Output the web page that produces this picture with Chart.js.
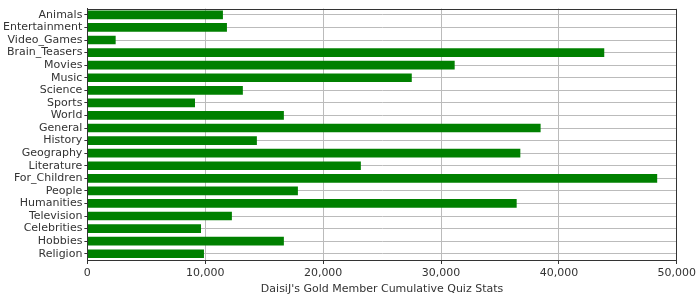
<!DOCTYPE html>
<html>
<head>
<meta charset="utf-8">
<script src="https://cdn.jsdelivr.net/npm/chart.js@4/dist/chart.umd.min.js"></script>
<style>
html,body{margin:0;padding:0;background:#fff;}
#wrap{width:700px;height:300px;}
</style>
</head>
<body>
<div id="wrap"><canvas id="c" width="700" height="300"></canvas></div>
<script>
const categories = ["Animals","Entertainment","Video_Games","Brain_Teasers","Movies","Music","Science","Sports","World","General","History","Geography","Literature","For_Children","People","Humanities","Television","Celebrities","Hobbies","Religion"];
const values = [11500,11840,2400,43850,31160,27520,13190,9130,16670,38450,14380,36730,23200,48340,17860,36420,12260,9640,16670,9890];
const xTicks = [0,10000,20000,30000,40000,50000];
const axisTitle = "DaisiJ's Gold Member Cumulative Quiz Stats";

const frame = {
  id:'frame',
  afterDatasetsDraw(chart){
    const a = chart.chartArea, ctx = chart.ctx;
    ctx.save();
    ctx.strokeStyle = '#333';
    ctx.lineWidth = 1;
    ctx.strokeRect(Math.round(a.left)+0.5, Math.round(a.top)+0.5, Math.round(a.right-a.left), Math.round(a.bottom-a.top));
    ctx.restore();
  }
};

new Chart(document.getElementById('c'), {
  type:'bar',
  data:{labels:categories, datasets:[{data:values, backgroundColor:'#008000', borderWidth:0, categoryPercentage:1, barPercentage:0.69}]},
  options:{
    indexAxis:'y',
    responsive:false,
    animation:false,
    layout:{padding:{left:1,right:10,top:2,bottom:5}},
    plugins:{legend:{display:false},tooltip:{enabled:false}},
    scales:{
      x:{
        min:0,max:50000,
        afterBuildTicks(s){ s.ticks = xTicks.map(v=>({value:v})); },
        ticks:{color:'#333',font:{family:'DejaVu Sans',size:11,lineHeight:1.0},padding:4,callback:v=>v.toLocaleString('en-US'),maxRotation:0},
        grid:{color:'#bbb',lineWidth:1,tickLength:4,tickColor:'#333'},
        border:{color:'#333',width:1},
        title:{display:true,text:axisTitle,color:'#333',font:{family:'DejaVu Sans',size:11,lineHeight:1.0},padding:{top:1,bottom:0}}
      },
      y:{
        ticks:{color:'#333',font:{family:'DejaVu Sans',size:11},padding:2,autoSkip:false},
        grid:{color:'#bbb',lineWidth:1,offset:false,tickLength:3,tickColor:'#333'},
        border:{color:'#333',width:1}
      }
    }
  },
  plugins:[frame]
});
</script>
</body>
</html>
